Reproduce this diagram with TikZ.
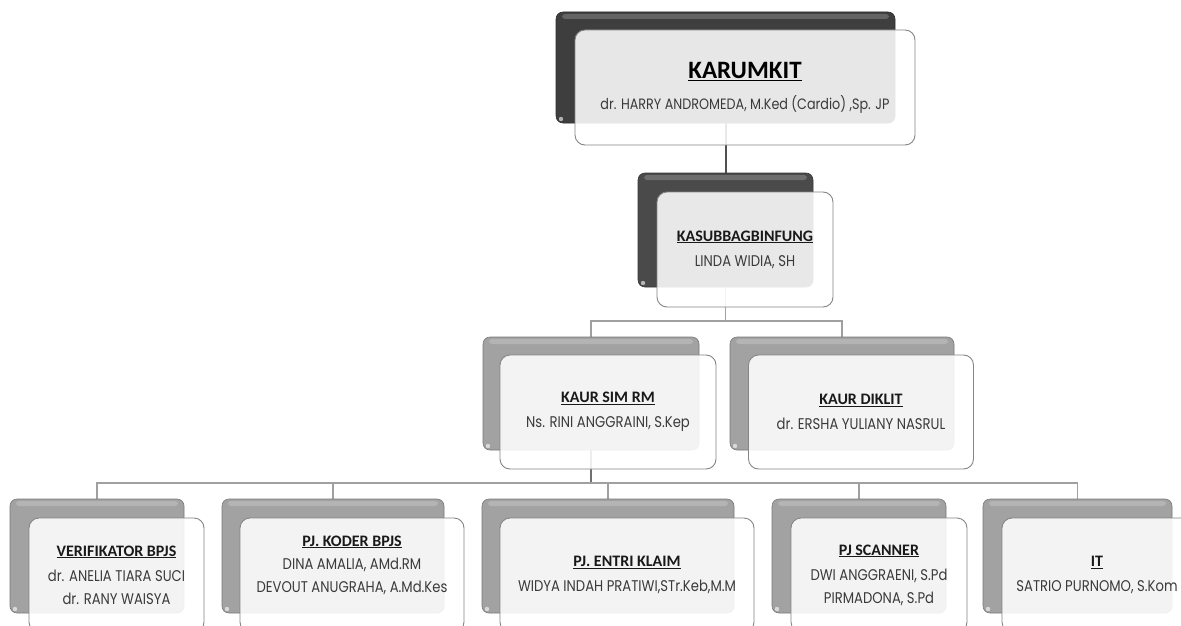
\documentclass[tikz,border=0pt]{standalone}
\usepackage{fontspec}
\setmainfont{Poppins}
\newfontfamily\hdfont{Carlito}
\newfontfamily\nmfont[FakeStretch=0.85]{Poppins}
\usetikzlibrary{calc}
\definecolor{dkA}{HTML}{3E3E3E}
\definecolor{dkB}{HTML}{4A4A4A}
\definecolor{md}{HTML}{A2A2A2}
\definecolor{frline}{HTML}{858585}
\definecolor{lnA}{HTML}{505050}
\definecolor{lnB}{HTML}{A0A0A0}
\definecolor{lnC}{HTML}{707070}
\definecolor{txt}{HTML}{3A3A3A}
\pgfdeclarelayer{back}
\pgfdeclarelayer{bg}
\pgfsetlayers{back,bg,main}
\tikzset{
  gloss/.style={path picture={
    \fill[white,opacity=0.2,rounded corners=3pt]
      ([xshift=6pt,yshift=-2pt]path picture bounding box.north west) rectangle
      ([xshift=-6pt,yshift=-7pt]path picture bounding box.north east);
    \fill[white,opacity=0.6]
      ([xshift=5pt,yshift=4pt]path picture bounding box.south west) circle (2.2pt);
  }},
  backbox/.style={rectangle, rounded corners=7pt, inner sep=0pt,
    minimum height=114pt, fill=#1, draw=#1!75!black, line width=0.6pt, gloss},
  frontbox/.style={rectangle, rounded corners=10pt, inner sep=0pt,
    minimum height=115pt, draw=frline, line width=0.9pt, fill=white,
    fill opacity=0.88, text opacity=1, align=center, text=txt},
  toptext/.style={font=\nmfont\fontsize{15}{31}\selectfont},
  midtext/.style={font=\nmfont\fontsize{15.5}{25}\selectfont},
  lowtext/.style={font=\nmfont\fontsize{15.5}{22.5}\selectfont},
  linkA/.style={draw=lnA, line width=2pt},
  linkB/.style={draw=lnB, line width=1.6pt},
  linkC/.style={draw=lnC, line width=1.8pt},
}
\newcommand{\ttlA}[1]{{\hdfont\bfseries\fontsize{25}{31}\selectfont\color{black}\underline{#1}}}
\newcommand{\ttlB}[1]{{\hdfont\bfseries\fontsize{16}{25}\selectfont\color{black!90}\underline{#1}}}
\begin{document}
\begin{tikzpicture}[x=1pt,y=-1pt]
\useasboundingbox (0,0) rectangle (1181,626);
\clip (0,0) rectangle (1181,626);
\begin{pgfonlayer}{back}
\fill[white] (0,0) rectangle (1181,626);
\end{pgfonlayer}

% level 1
\node[backbox=dkA, minimum width=339pt, minimum height=111pt] (b1) at (725.5,67.5) {};
\node[frontbox, toptext, minimum width=340pt] (f1) at (745,87.5)
  {\ttlA{KARUMKIT}\\ dr. HARRY ANDROMEDA, M.Ked (Cardio) ,Sp. JP};

% level 2
\node[backbox=dkB, minimum width=175pt] (b2) at (725.5,230) {};
\node[frontbox, midtext, minimum width=176pt] (f2) at (745,249.5)
  {\ttlB{KASUBBAGBINFUNG}\\ LINDA WIDIA, SH};

% level 3
\node[backbox=md, minimum width=216pt, minimum height=113pt] (b3) at (591,393.5) {};
\node[frontbox, midtext, minimum width=216pt, minimum height=114pt] (f3) at (608,412)
  {\ttlB{KAUR SIM RM}\\ Ns. RINI ANGGRAINI, S.Kep};
\node[backbox=md, minimum width=224pt, minimum height=113pt] (b4) at (842,393.5) {};
\node[frontbox, midtext, minimum width=225pt, minimum height=114pt] (f4) at (861,412)
  {\ttlB{KAUR DIKLIT}\\ dr. ERSHA YULIANY NASRUL};

% level 4
\node[backbox=md, minimum width=174pt] (b5) at (97,556) {};
\node[frontbox, lowtext, minimum width=175pt, minimum height=114pt] (f5) at (116.5,575)
  {\ttlB{VERIFIKATOR BPJS}\\[3pt] dr. ANELIA TIARA SUCI\\ dr. RANY WAISYA};
\node[backbox=md, minimum width=222pt] (b6) at (333,556) {};
\node[frontbox, lowtext, minimum width=224pt, minimum height=114pt] (f6) at (352,575)
  {\ttlB{PJ. KODER BPJS}\\[1pt] DINA AMALIA, AMd.RM\\ DEVOUT ANUGRAHA, A.Md.Kes\\ \mbox{}};
\node[backbox=md, minimum width=252pt] (b7) at (608,556) {};
\node[frontbox, lowtext, minimum width=254pt, minimum height=114pt] (f7) at (627,575)
  {\ttlB{PJ. ENTRI KLAIM}\\[3pt] WIDYA INDAH PRATIWI,STr.Keb,M.M};
\node[backbox=md, minimum width=174pt] (b8) at (859,556) {};
\node[frontbox, lowtext, minimum width=176pt, minimum height=114pt] (f8) at (879,575)
  {\ttlB{PJ SCANNER}\\[3pt] DWI ANGGRAENI, S.Pd\\ PIRMADONA, S.Pd};
\node[backbox=md, minimum width=189pt] (b9) at (1077.5,556) {};
\node[frontbox, lowtext, minimum width=190pt, minimum height=114pt] (f9) at (1097,575)
  {\ttlB{IT}\\[3pt] SATRIO PURNOMO, S.Kom};

% connectors
\coordinate (j1) at (727,321);
\coordinate (j2) at (591,483);
\begin{pgfonlayer}{bg}
  \path[linkA] (b1.south) -- (b2.north);
  \path[linkB] (b2.south) -- (b2.south |- j1);
  \path[linkB] (b3.north) |- (j1) -| (b4.north);
  \path[linkC] (b3.south) -- (j2);
  \path[linkB] (b5.north) |- (j2) -| (b9.north);
  \path[linkB] (b6.north) -- (b6.north |- j2);
  \path[linkB] (b7.north) -- (b7.north |- j2);
  \path[linkB] (b8.north) -- (b8.north |- j2);
\end{pgfonlayer}
\end{tikzpicture}
\end{document}
